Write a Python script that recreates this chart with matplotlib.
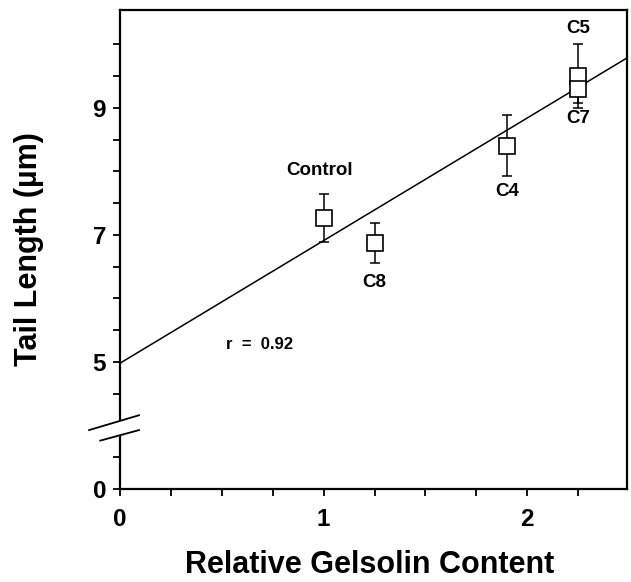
import matplotlib
matplotlib.use("Agg")
import matplotlib.pyplot as plt
import numpy as np

# gelsolin content vs tail length (y axis is broken: 0 drawn at the 3 position)
names = ["Control", "C8", "C4", "C5", "C7"]
gelsolin = [1.0, 1.25, 1.9, 2.25, 2.25]
tail = [7.27, 6.87, 8.40, 9.50, 9.30]
tail_err = [0.38, 0.31, 0.48, 0.50, 0.22]

fit_intercept = 4.98
fit_slope = 1.93
r_value = 0.92

plt.rcParams['font.family'] = ['Liberation Sans', 'DejaVu Sans']

fig = plt.figure(figsize=(6.31, 5.82), dpi=100)
ax = fig.add_axes([120/631, 1 - 489/582, 507/631, 479/582])

xmax = 2.49
xs = np.array([0, xmax])
ax.plot(xs, fit_intercept + fit_slope * xs, color='black', lw=1.1, zorder=2)

ax.errorbar(gelsolin, tail, yerr=tail_err, fmt='none', ecolor='black',
            elinewidth=1.1, capsize=3.5, capthick=1.1, zorder=3)
ax.plot(gelsolin, tail, 's', ms=11.5, mfc='white', mec='black', mew=1.2,
        zorder=4, clip_on=False)

# point labels
offsets = {"Control": (-0.02, 0.75), "C8": (0.0, -0.62), "C4": (0.0, -0.72),
           "C5": (0.0, 0.75), "C7": (0.0, -0.47)}
for n, x, y in zip(names, gelsolin, tail):
    dx, dy = offsets[n]
    ax.text(x + dx, y + dy, n, ha='center', va='center', fontsize=13.5,
            fontweight='bold')

ax.text(0.686, 5.27, "r  =  %.2f" % r_value, ha='center', va='center',
        fontsize=12, fontweight='bold')

ax.set_xlim(0, xmax)
ax.set_ylim(3.0, 10.54)

ax.set_xticks([0, 1, 2])
ax.set_xticklabels(["0", "1", "2"])
ax.set_xticks(np.arange(0, 2.3, 0.25), minor=True)
yt = [3, 5, 7, 9]
ax.set_yticks(yt)
ax.set_yticklabels(["0", "5", "7", "9"])
ax.set_yticks([v for v in np.arange(3.5, 10.1, 0.5) if v not in (4.0,)],
              minor=True)

ax.tick_params(which='both', direction='out', length=5, width=1.3,
               labelsize=17.5)
ax.tick_params(axis='x', pad=9)
ax.tick_params(axis='y', pad=5)
for lab in ax.get_xticklabels() + ax.get_yticklabels():
    lab.set_fontweight('bold')
for s in ax.spines.values():
    s.set_linewidth(1.6)

ax.set_xlabel("Relative Gelsolin Content", fontsize=22, fontweight='bold',
              va='center')
ax.xaxis.set_label_coords(0.493, (489 - 565) / 479)
ax.set_ylabel("Tail Length (\u00b5m)", fontsize=22, fontweight='bold',
              va='center')
ax.yaxis.set_label_coords((29 - 120) / 507, 0.5)

# axis break marks
tr = ax.transAxes
ax.fill([-0.01, 0.01, 0.01, -0.01], [0.108, 0.116, 0.146, 0.138],
        transform=tr, color='white', clip_on=False, zorder=5)
ax.plot([-0.061, 0.0375], [0.123, 0.154], transform=tr, color='black',
        lw=1.3, clip_on=False, zorder=6)
ax.plot([-0.039, 0.0375], [0.101, 0.123], transform=tr, color='black',
        lw=1.3, clip_on=False, zorder=6)

fig.savefig("out.png", dpi=100)
